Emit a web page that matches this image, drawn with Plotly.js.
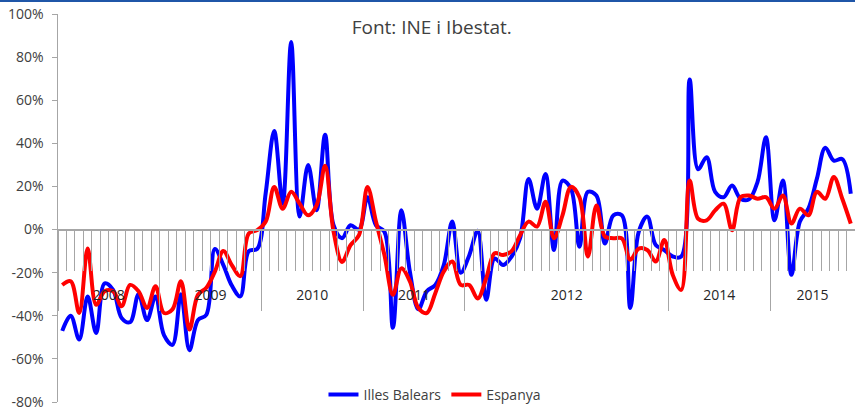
<!DOCTYPE html>
<html>
<head>
<meta charset="utf-8">
<script src="https://cdn.plot.ly/plotly-3.0.1.min.js"></script>
<style>
  html, body { margin: 0; padding: 0; background: #fff; }
  #chart { width: 855px; height: 411px; }
  #topline { position: absolute; left: 0; top: 0; width: 855px; height: 2px; background: #1f56a8; z-index: 5; }
</style>
</head>
<body>
<div id="topline"></div>
<div id="chart"></div>
<script>
// Monthly series, Jan 2008 – Oct 2015 (year-on-year change, %)
const illesBalears = [
  -47, -40, -51, -31, -48, -25, -28, -41, -43, -30, -42, -31,
  -49, -53.5, -30, -56, -42, -39.5, -9, -16.5, -26, -31, -10, -9,
  17, 45.7, 12, 87, 6, 30, 9, 44, 2, -4, 2, 0,
  15, 2, -1, -45.6, 9, -19.5, -37, -28.6, -25.7, -16.5, 3.7, -20,
  -12, -0.5, -32.6, -13.4, -16.5, -12.5, -4, 23.5, 9.7, 25.8, -9.5, 22.7,
  19, -8, 17.5, 15.8, -6.5, 6.6, 6.6, -36.4, -1, 6, -7.2, -9.5,
  -12.5, -12.5, 69.6, 28, 33.6, 17.5, 15, 20.4, 14.3, 14, 22, 42.8,
  4.3, 22.7, -21, 3.7, 9.7, 23.5, 38, 32, 32.7, 16.6
];
const espanya = [
  -25.7, -24, -38.7, -8.8, -34.9, -28.6, -28.6, -35.6, -25.7, -28.6, -36.4, -26.3,
  -38.7, -37, -24, -46.4, -30.3, -27, -19.5, -10, -16.5, -21.6, -1.8, -0.3,
  3.7, 19.8, 9.7, 17.5, 12, 6.6, 11.2, 29.6, -1, -15, -7.2, -2.6,
  19.8, 3.7, -11.8, -30.3, -18, -24, -36.4, -38.7, -29.5, -19.5, -14.8, -25.7,
  -25.7, -32, -22.6, -11, -11.8, -10, -2.6, 3.7, 1.4, 12.9, -4, 6.6,
  19.8, 15, -12.5, 11.2, -3.2, -4, -4.1, -14, -8.8, -9.5, -14.8, -4.9,
  -21, -28, 22.7, 5, 4.3, 8.9, 12, -0.3, 15, 15.8, 14.3, 15,
  9.7, 15.8, 2.8, 9.7, 6.6, 17.5, 14.3, 24.4, 14.3, 2.8
];
const seriesNames = ['Illes Balears', 'Espanya'];
const yearLabels = ['2008', '2009', '2010', '2011', '2012', '2014', '2015'];
const yearLabelPos = [5.5, 17.5, 29.5, 41.5, 59.5, 77.5, 88.5];
const yearBoundaries = [-0.5, 11.5, 23.5, 35.5, 47.5, 71.5, 83.5];
const yTicks = [-80, -60, -40, -20, 0, 20, 40, 60, 80, 100];
const yTickLabels = ['-80%', '-60%', '-40%', '-20%', '0%', '20%', '40%', '60%', '80%', '100%'];

const monthIdx = illesBalears.map((_, i) => i);
const gray = '#a6a6a6';
const textCol = '#404040';
const fontFam = '"Open Sans", "DejaVu Sans", sans-serif';

const traces = [
  { x: monthIdx, y: illesBalears, name: seriesNames[0], type: 'scatter', mode: 'lines',
    line: { color: '#0000ff', width: 4, shape: 'spline', smoothing: 1 }, hoverinfo: 'skip' },
  { x: monthIdx, y: espanya, name: seriesNames[1], type: 'scatter', mode: 'lines',
    line: { color: '#ff0000', width: 4, shape: 'spline', smoothing: 1 }, hoverinfo: 'skip' },
  { x: [], y: [], xaxis: 'x2', showlegend: false, hoverinfo: 'skip', type: 'scatter' },
  { x: [], y: [], xaxis: 'x3', showlegend: false, hoverinfo: 'skip', type: 'scatter' }
];

const xr = [-0.5, 93.5];
const zeroPos = 174 / 391;

const layout = {
  width: 855, height: 411,
  margin: { l: 58, r: 0, t: 14, b: 6 },
  paper_bgcolor: '#ffffff', plot_bgcolor: '#ffffff',
  font: { family: fontFam, color: textCol, size: 14 },
  title: { text: 'Font: INE i Ibestat.', font: { size: 19, color: textCol, family: fontFam },
           xref: 'container', yref: 'container', x: 0.505, xanchor: 'center', y: 0.934, yanchor: 'middle' },
  showlegend: true,
  legend: { orientation: 'h', x: 0.473, xanchor: 'center', y: 0.018, yanchor: 'middle',
            font: { size: 14, color: textCol }, bgcolor: 'rgba(0,0,0,0)', itemwidth: 30, tracegroupgap: 0 },
  xaxis: {
    range: xr, anchor: 'free', position: zeroPos, showline: true, linecolor: gray, linewidth: 1.5,
    ticks: 'outside', ticklen: 40, tickcolor: gray, tickwidth: 1,
    tickmode: 'linear', tick0: -0.5, dtick: 1, showticklabels: false,
    showgrid: false, zeroline: false, fixedrange: true
  },
  xaxis2: {
    range: xr, overlaying: 'x', anchor: 'free', position: zeroPos, showline: false,
    ticks: 'outside', ticklen: 81, tickcolor: gray, tickwidth: 1,
    tickmode: 'array', tickvals: yearBoundaries, showticklabels: false,
    showgrid: false, zeroline: false
  },
  xaxis3: {
    range: xr, overlaying: 'x', anchor: 'free', position: 118 / 391, showline: false,
    ticks: '', tickmode: 'array', tickvals: yearLabelPos, ticktext: yearLabels,
    tickfont: { size: 14, color: '#262626' }, showgrid: false, zeroline: false
  },
  yaxis: {
    range: [-80, 100], tickmode: 'array', tickvals: yTicks, ticktext: yTickLabels,
    ticks: 'outside', ticklen: 5, tickcolor: gray, tickwidth: 1, ticklabelstandoff: 5,
    showline: true, linecolor: gray, linewidth: 1.5,
    showgrid: false, zeroline: false, tickfont: { size: 14, color: textCol }
  }
};

Plotly.newPlot('chart', traces, layout, { staticPlot: true, displayModeBar: false });
</script>
</body>
</html>
